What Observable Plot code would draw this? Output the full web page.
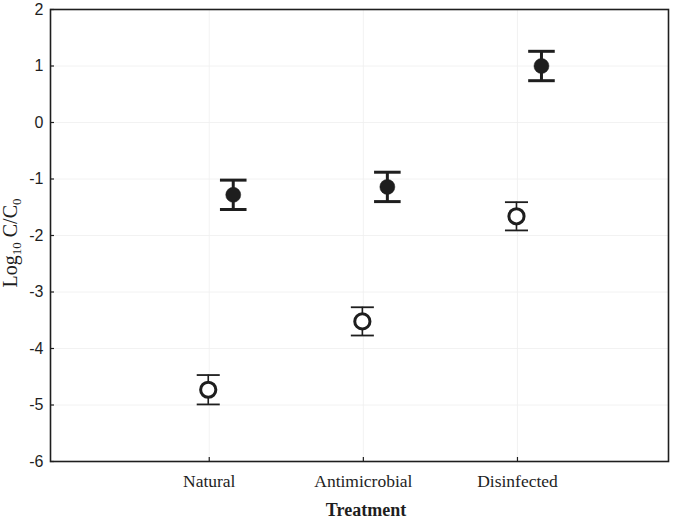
<!DOCTYPE html>
<html>
<head>
<meta charset="utf-8">
<script src="https://cdn.jsdelivr.net/npm/d3@7"></script>
<script src="https://cdn.jsdelivr.net/npm/@observablehq/plot@0.6"></script>
<style>
  html, body { margin: 0; padding: 0; background: #fff; }
  #chart { width: 700px; height: 522px; }
</style>
</head>
<body>
<div id="chart"></div>
<script>
// Data
const categories = ["Natural", "Antimicrobial", "Disinfected"];
const openMean = [-4.73, -3.52, -1.66];
const openErr = [0.26, 0.25, 0.25];
const filledMean = [-1.28, -1.14, 1.00];
const filledErr = [0.26, 0.26, 0.26];
const yTicks = [-6, -5, -4, -3, -2, -1, 0, 1, 2];

const openData = categories.map((c, i) => ({i: i + 1, m: openMean[i], lo: openMean[i] - openErr[i], hi: openMean[i] + openErr[i]}));
const filledData = categories.map((c, i) => ({i: i + 1, m: filledMean[i], lo: filledMean[i] - filledErr[i], hi: filledMean[i] + filledErr[i]}));

const hline = {
  draw(context, size) {
    const w = Math.sqrt(size);
    context.moveTo(-w, 0);
    context.lineTo(w, 0);
  }
};

const ink = "#1e1e1e";
const dxOpen = -1, dxFilled = 24;

const plot = Plot.plot({
  width: 700,
  height: 522,
  marginLeft: 50,
  marginRight: 32,
  marginTop: 9,
  marginBottom: 61,
  style: {background: "#fff", color: ink},
  x: {domain: [-0.03, 3.98], axis: null},
  y: {domain: [-6, 2], axis: null},
  marks: [
    Plot.gridY(yTicks, {stroke: "#efefef", strokeOpacity: 1, strokeWidth: 0.8}),
    Plot.gridX([1, 2, 3], {stroke: "#efefef", strokeOpacity: 1, strokeWidth: 0.8}),
    Plot.axisY({ticks: yTicks, tickSize: 0, tickPadding: 7, fontSize: 16, fontFamily: "Liberation Sans, Arial, sans-serif", label: null, tickFormat: d => String(d).replace("−", "-")}),
    Plot.axisY({ticks: yTicks, tickSize: -4, text: null, label: null, stroke: ink, strokeWidth: 1.2}),
    Plot.axisX({ticks: [1, 2, 3], tickSize: 0, tickPadding: 13, fontSize: 17.5, fontFamily: "Liberation Serif, Times New Roman, serif", label: null, tickFormat: d => categories[d - 1]}),
    Plot.axisX({ticks: [1, 2, 3], tickSize: -4, text: null, label: null, stroke: ink, strokeWidth: 1.2}),
    Plot.frame({stroke: ink, strokeWidth: 1.6}),
    // open series
    Plot.ruleX(openData, {x: "i", y1: "lo", y2: "hi", dx: dxOpen, stroke: ink, strokeWidth: 1.6}),
    Plot.dot(openData, {x: "i", y: "lo", dx: dxOpen, symbol: hline, r: 6.5, stroke: ink, strokeWidth: 1.8}),
    Plot.dot(openData, {x: "i", y: "hi", dx: dxOpen, symbol: hline, r: 6.5, stroke: ink, strokeWidth: 1.8}),
    Plot.dot(openData, {x: "i", y: "m", dx: dxOpen, r: 7.6, fill: "#fff", stroke: ink, strokeWidth: 3}),
    // filled series
    Plot.ruleX(filledData, {x: "i", y1: "lo", y2: "hi", dx: dxFilled, stroke: ink, strokeWidth: 3}),
    Plot.dot(filledData, {x: "i", y: "lo", dx: dxFilled, symbol: hline, r: 7.5, stroke: ink, strokeWidth: 3}),
    Plot.dot(filledData, {x: "i", y: "hi", dx: dxFilled, symbol: hline, r: 7.5, stroke: ink, strokeWidth: 3}),
    Plot.dot(filledData, {x: "i", y: "m", dx: dxFilled, r: 7.5, fill: ink, stroke: ink, strokeWidth: 0.5})
  ]
});

document.getElementById("chart").appendChild(plot);

const svg = d3.select(plot);
// x axis title
svg.append("text")
  .attr("x", 366)
  .attr("y", 516)
  .attr("text-anchor", "middle")
  .attr("font-family", "Liberation Serif, Times New Roman, serif")
  .attr("font-weight", "bold")
  .attr("font-size", 18)
  .attr("fill", ink)
  .text("Treatment");
// y axis title with subscripts
const yl = svg.append("text")
  .attr("transform", "translate(17,243) rotate(-90)")
  .attr("text-anchor", "middle")
  .attr("font-family", "Liberation Serif, Times New Roman, serif")
  .attr("font-size", 20)
  .attr("fill", ink);
yl.append("tspan").text("Log");
yl.append("tspan").attr("font-size", 13).attr("dy", 4).text("10");
yl.append("tspan").attr("dy", -4).text(" C/C");
yl.append("tspan").attr("font-size", 13).attr("dy", 4).text("0");
</script>
</body>
</html>
